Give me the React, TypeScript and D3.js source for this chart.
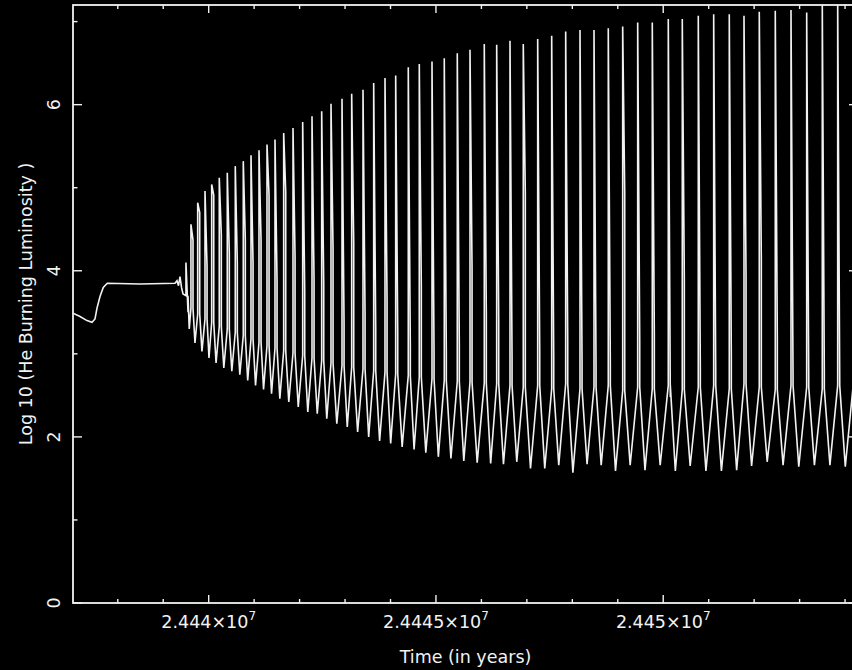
import * as d3 from 'd3';

// quiet phase before the thermal pulses start (years, log10 L_He)
const preYears = [
  24437015, 24437169, 24437323, 24437433, 24437499, 24437543, 24437609, 24437681, 24437769,
  24438489, 24439259, 24439303, 24439336, 24439369, 24439402, 24439435,
];
const preLog = [3.49, 3.45, 3.4, 3.38, 3.42, 3.55, 3.69, 3.8, 3.85, 3.84, 3.85, 3.88, 3.82, 3.93, 3.8, 3.72];

// one entry per He shell flash
const pulseYears = [
  24439500, 24439610, 24439758, 24439919, 24440066, 24440233, 24440409, 24440585, 24440761, 24440931,
  24441107, 24441283, 24441459, 24441650, 24441855, 24442068, 24442273, 24442486, 24442691, 24442933,
  24443146, 24443395, 24443630, 24443879, 24444114, 24444391, 24444633, 24444913, 24445183, 24445469,
  24445749, 24446063, 24446336, 24446629, 24446921, 24447238, 24447546, 24447854, 24448169, 24448477,
  24448791, 24449108, 24449438, 24449759, 24450111, 24450419, 24450771, 24451110, 24451453, 24451777,
  24452113, 24452465, 24452811, 24453156, 24453499, 24453838, 24454175,
];
const peakLog = [
  4.1, 4.56, 4.82, 4.96, 5.04, 5.12, 5.18, 5.26, 5.32, 5.39,
  5.45, 5.52, 5.58, 5.66, 5.72, 5.79, 5.86, 5.92, 6.01, 6.07,
  6.13, 6.18, 6.26, 6.32, 6.35, 6.45, 6.49, 6.52, 6.56, 6.62,
  6.66, 6.73, 6.72, 6.77, 6.73, 6.79, 6.83, 6.88, 6.9, 6.9,
  6.92, 6.94, 6.99, 6.99, 7.03, 7.03, 7.07, 7.09, 7.09, 7.07,
  7.12, 7.13, 7.14, 7.11, 7.25, 7.25, 7.3,
];
// second sample just after the peak
const afterPeakLog = [
  3.5, 4.37, 4.7, 4.05, 4.91, 4.43, 4.21, 4.09, 4.37, 4.09,
  4.37, 4.91, 3.87, 4.95, 4.17, 3.75, 3.89, 3.85, 4.26, 3.37,
  4.34, 3.49, 3.31, 3.65, 3.25, 3.09, 3.81, 3.01, 3.01, 3.11,
  4.03, 3.48, 3.41, 2.97, 4.93, 3.04, 2.95, 3.17, 2.91, 2.85,
  2.89, 4.95, 3.17, 3.23, 2.48, 3.89, 2.83, 2.78, 2.99, 3.93,
  4.15, 3.19, 2.71, 2.75, 2.75, 2.68, 2.7,
];
// level the flash rises from / falls back to
const shoulderLog = [
  3.7, 3.55, 3.48, 3.42, 3.38, 3.33, 3.3, 3.26, 3.22, 3.18,
  3.14, 3.1, 3.07, 3.04, 3.01, 2.98, 2.95, 2.92, 2.89, 2.86,
  2.84, 2.82, 2.8, 2.78, 2.76, 2.74, 2.72, 2.7, 2.68, 2.67,
  2.66, 2.65, 2.64, 2.62, 2.6, 2.62, 2.58, 2.64, 2.58, 2.6,
  2.62, 2.56, 2.6, 2.58, 2.62, 2.57, 2.6, 2.62, 2.58, 2.64,
  2.6, 2.57, 2.62, 2.6, 2.58, 2.62, 2.6,
];
// interpulse minimum between flash i and i+1
const troughLog = [
  3.3, 3.13, 3.03, 2.95, 2.89, 2.83, 2.79, 2.75, 2.68, 2.62,
  2.57, 2.52, 2.46, 2.42, 2.36, 2.3, 2.28, 2.22, 2.16, 2.12,
  2.06, 2.0, 1.95, 1.92, 1.88, 1.85, 1.81, 1.76, 1.74, 1.71,
  1.69, 1.68, 1.67, 1.7, 1.62, 1.62, 1.66, 1.57, 1.67, 1.66,
  1.59, 1.66, 1.6, 1.66, 1.59, 1.65, 1.59, 1.59, 1.6, 1.65,
  1.7, 1.66, 1.64, 1.66, 1.66, 1.64,
];
const flashWidth = 45; // years between peak sample and the next one
const troughPhase = 0.42;

const xMajor = [24440000, 24445000, 24450000];
const xMajorText = ['2.444', '2.4445', '2.445'];
const xMinor = d3.range(24438000, 24455000, 1000).filter((v) => !xMajor.includes(v));
const yMajor = [0, 2, 4, 6];
const yMinor = [1, 3, 5, 7];

const W = 852;
const H = 670;
const left = 73;
const right = 858;
const top = 5;
const bottom = 603;
const font = '"DejaVu Sans", sans-serif';

export default function App() {
  const x = d3.scaleLinear().domain([24437015, 24454285]).range([left, right]);
  const y = d3.scaleLinear().domain([0, 7.2]).range([bottom, top]);

  const pts: Array<[number, number]> = preYears.map((t, i) => [t, preLog[i]]);
  pulseYears.forEach((t, i) => {
    pts.push([t, shoulderLog[i]], [t, peakLog[i]]);
    if (i === pulseYears.length - 1) return;
    pts.push([t + flashWidth, afterPeakLog[i]], [t + flashWidth, shoulderLog[i]]);
    const tn = pulseYears[i + 1];
    pts.push([t + flashWidth + troughPhase * (tn - t - flashWidth), troughLog[i]]);
  });

  const line = d3
    .line<[number, number]>()
    .x((d) => x(d[0]))
    .y((d) => y(d[1]));

  const col = '#f2f2f2';

  return (
    <svg width={W} height={H} style={{ position: 'absolute', left: 0, top: 0, background: '#000' }}>
      <rect width={W} height={H} fill="#000" />
      <defs>
        <clipPath id="plot">
          <rect x={left} y={top} width={right - left} height={bottom - top} />
        </clipPath>
      </defs>
      <path d={line(pts) ?? ''} fill="none" stroke={col} strokeWidth={1.6} clipPath="url(#plot)" />

      <rect x={left} y={top} width={right - left} height={bottom - top} fill="none" stroke={col} strokeWidth={1.8} />
      {xMajor.map((v) => (
        <g key={'xM' + v}>
          <line x1={x(v)} x2={x(v)} y1={bottom} y2={bottom - 8} stroke={col} strokeWidth={1.4} />
          <line x1={x(v)} x2={x(v)} y1={top} y2={top + 8} stroke={col} strokeWidth={1.4} />
        </g>
      ))}
      {xMinor.map((v) => (
        <g key={'xm' + v}>
          <line x1={x(v)} x2={x(v)} y1={bottom} y2={bottom - 4} stroke={col} strokeWidth={1.4} />
          <line x1={x(v)} x2={x(v)} y1={top} y2={top + 4} stroke={col} strokeWidth={1.4} />
        </g>
      ))}
      {yMajor.map((v) => (
        <g key={'yM' + v}>
          <line x1={left} x2={left + 9} y1={y(v)} y2={y(v)} stroke={col} strokeWidth={1.4} />
          <line x1={right} x2={right - 9} y1={y(v)} y2={y(v)} stroke={col} strokeWidth={1.4} />
        </g>
      ))}
      {yMinor.map((v) => (
        <g key={'ym' + v}>
          <line x1={left} x2={left + 4.5} y1={y(v)} y2={y(v)} stroke={col} strokeWidth={1.4} />
          <line x1={right} x2={right - 4.5} y1={y(v)} y2={y(v)} stroke={col} strokeWidth={1.4} />
        </g>
      ))}

      <g fill={col} fontFamily={font} fontSize={17.5}>
        {xMajor.map((v, i) => (
          <text key={'xl' + v} x={x(v)} y={628} textAnchor="middle">
            {xMajorText[i]}×10
            <tspan dy={-8} fontSize={12}>
              7
            </tspan>
          </text>
        ))}
        {yMajor.map((v) => (
          <text key={'yl' + v} transform={`translate(60,${y(v)}) rotate(-90)`} textAnchor="middle">
            {v}
          </text>
        ))}
        <text x={(left + right) / 2} y={663} textAnchor="middle">
          Time (in years)
        </text>
        <text transform={`translate(32,${(top + bottom) / 2}) rotate(-90)`} textAnchor="middle">
          Log 10 (He Burning Luminosity )
        </text>
      </g>
    </svg>
  );
}
